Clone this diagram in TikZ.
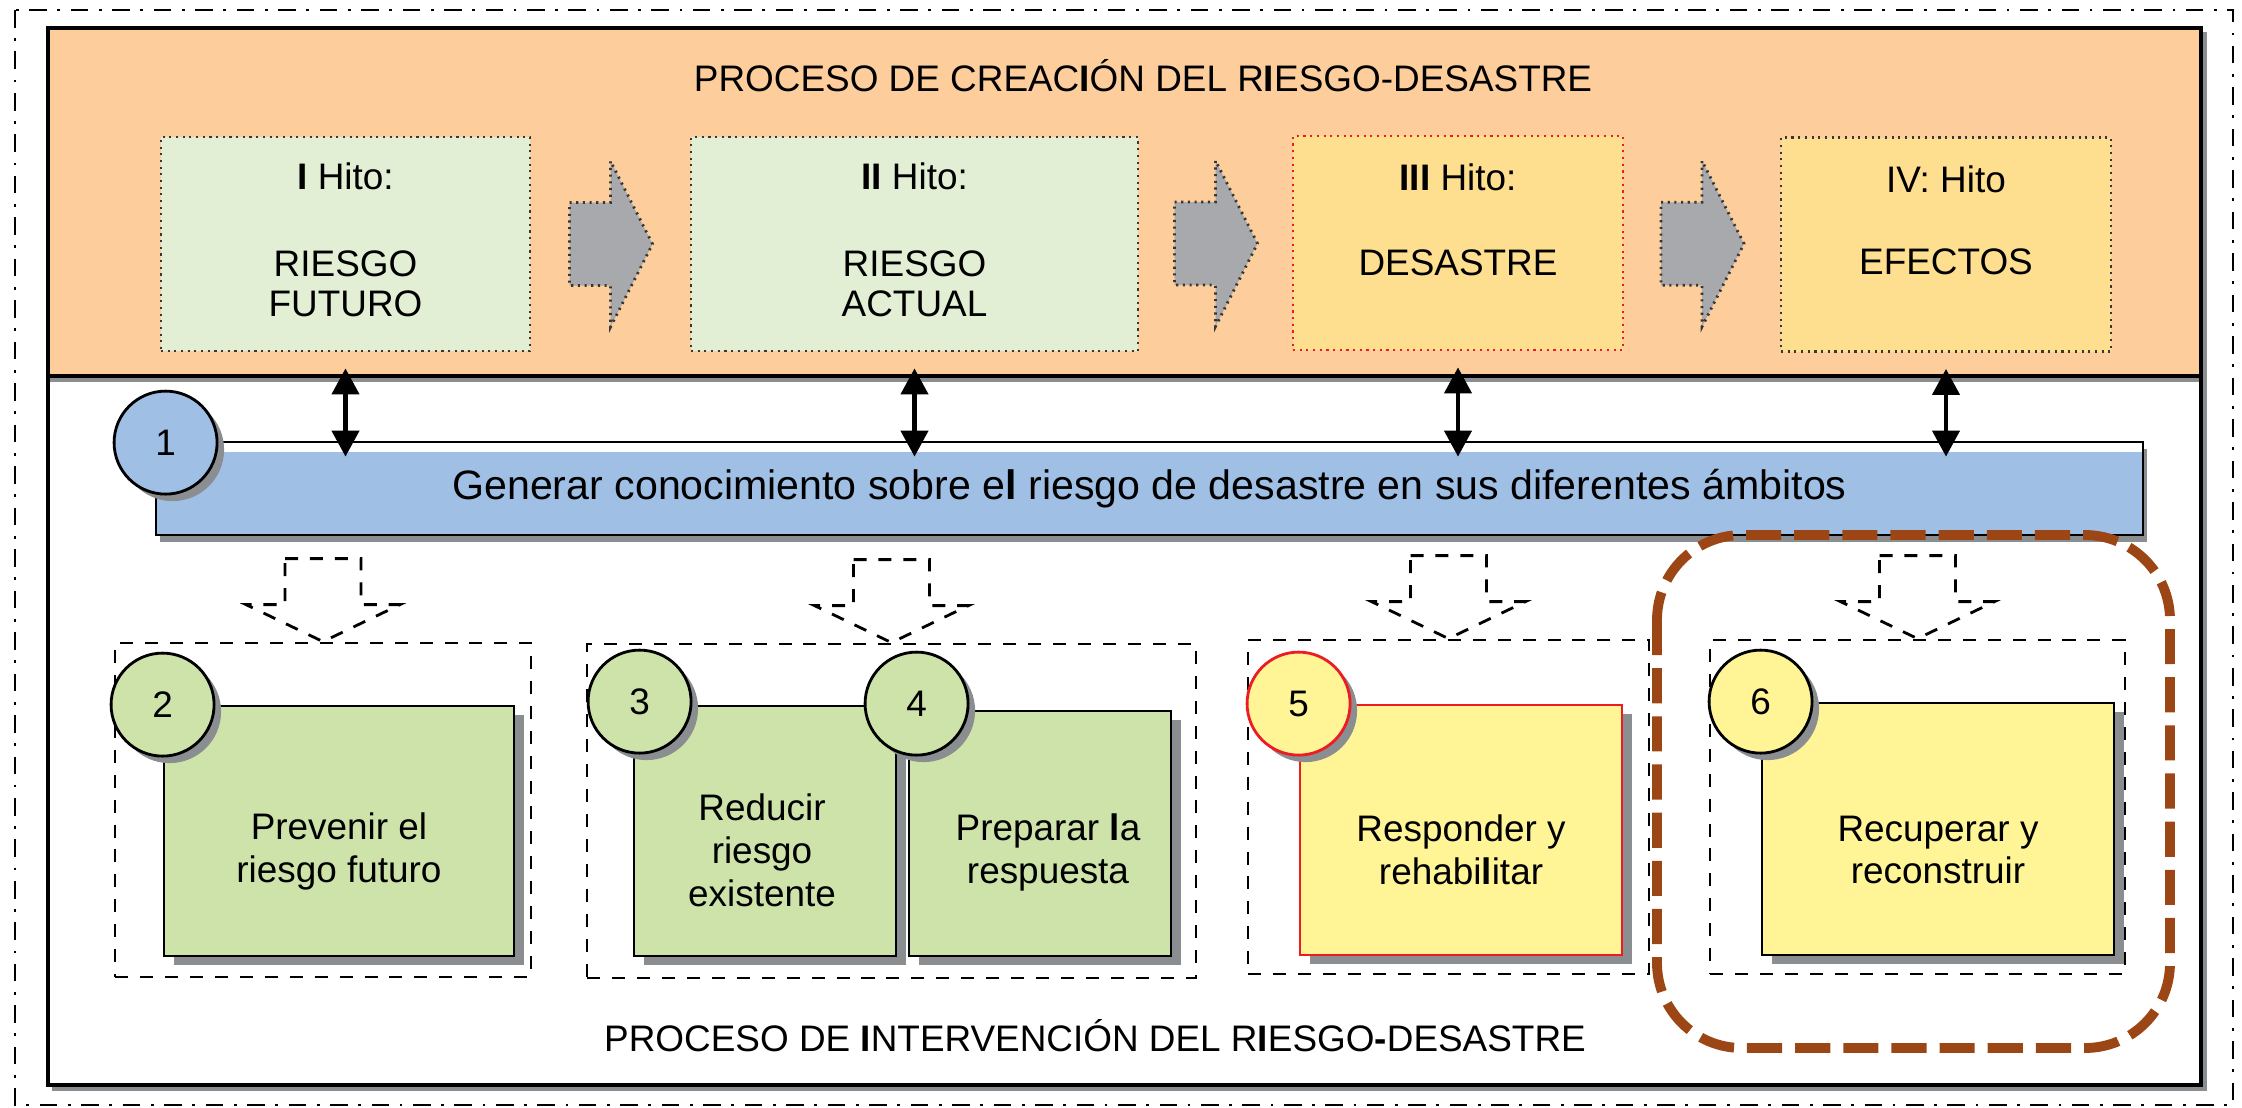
\documentclass[tikz,border=0pt]{standalone}
\usepackage{fontspec}
\setmainfont{Liberation Sans}
\usetikzlibrary{arrows.meta,calc,shadows}

\definecolor{naranja}{RGB}{253,206,155}
\definecolor{verdeclaro}{RGB}{227,239,212}
\definecolor{amarilloclaro}{RGB}{253,223,143}
\definecolor{grisflecha}{RGB}{167,169,172}
\definecolor{grisosc}{RGB}{55,55,55}
\definecolor{azulbarra}{RGB}{160,191,228}
\definecolor{verdecaja}{RGB}{206,227,170}
\definecolor{amarillocaja}{RGB}{255,245,151}
\definecolor{rojo}{RGB}{237,28,36}
\definecolor{marron}{RGB}{156,70,22}
\definecolor{sombra}{RGB}{138,142,145}

\begin{document}
\begin{tikzpicture}[x=1cm,y=-1cm,
    hito/.style={draw=grisosc, dash pattern=on 0.6pt off 1.3pt, line width=0.8pt, minimum height=2.14cm, inner sep=0pt},
    hitotxt/.style={align=center, font=\fontsize{10.5}{11.5}\selectfont},
    grayarrow/.style={fill=grisflecha, draw=grisosc, dash pattern=on 0.6pt off 1.3pt, line width=0.8pt},
    dblarrow/.style={{Triangle[width=7.7pt,length=7.4pt]}-{Triangle[width=7.7pt,length=7.4pt]}, line width=1.2pt},
    bar/.style={draw, line width=0.8pt, fill=azulbarra, minimum width=19.87cm, minimum height=0.93cm, inner sep=0pt,
        font=\fontsize{11.7}{14}\selectfont,
        drop shadow={shadow xshift=0.4mm, shadow yshift=-0.7mm, fill=sombra, opacity=1},
        path picture={\fill[white] (path picture bounding box.north west) rectangle ([yshift=-1mm]path picture bounding box.north east);}},
    num/.style={circle, draw, line width=0.8pt, minimum size=1.03cm, inner sep=0pt, font=\fontsize{10.5}{12}\selectfont,
        drop shadow={shadow xshift=0.7mm, shadow yshift=-0.7mm, fill=sombra, opacity=1}},
    grp/.style={draw, dash pattern=on 3.7pt off 3.4pt, line width=0.8pt, minimum height=3.34cm, inner sep=0pt},
    downarrow/.style={draw, fill=white, dash pattern=on 3.7pt off 3.4pt, line width=0.8pt},
    act/.style={draw, line width=0.8pt, inner sep=0pt,
        drop shadow={shadow xshift=1mm, shadow yshift=-0.9mm, fill=sombra, opacity=1}},
    acttxt/.style={align=center, font=\fontsize{10.5}{12.2}\selectfont},
    tittxt/.style={font=\fontsize{10.5}{12}\selectfont}]
    \useasboundingbox (0,0) rectangle (22.42,11.07);

    % frames
    \draw[dash pattern=on 5pt off 3pt on 0.8pt off 3pt, line width=0.8pt] (0.15,0.10) rectangle (22.33,11.05);
    \fill[naranja] (0.48,0.28) rectangle (22.01,3.76);
    \draw[sombra, line width=1pt] (0.48,3.80) -- (22.01,3.80);
    \draw[line width=1pt] (0.48,3.76) -- (22.01,3.76);
    \draw[sombra, line width=1pt] (0.52,10.89) -- (22.05,10.89) -- (22.05,0.32);
    \draw[line width=1pt] (0.48,0.28) rectangle (22.01,10.85);

    % titles
    \node[tittxt] (tit1) at (11.43,0.76) {PROCESO DE CREAC\textbf{I}ÓN DEL R\textbf{I}ESGO-DESASTRE};
    \node[tittxt] (tit2) at (10.95,10.36) {PROCESO DE \textbf{I}NTERVENCIÓN DEL R\textbf{I}ESGO\textbf{-}DESASTRE};

    % hitos
    \node[hito, fill=verdeclaro, minimum width=3.69cm] (h1) at (3.455,2.44) {};
    \node[hito, fill=verdeclaro, minimum width=4.47cm] (h2) at (9.145,2.44) {};
    \node[hito, fill=amarilloclaro, draw=rojo, minimum width=3.30cm] (h3) at (14.58,2.43) {};
    \node[hito, fill=amarilloclaro, minimum width=3.30cm] (h4) at (19.46,2.445) {};

    \node[hitotxt] (l1) at ($(h1.north)+(0,0.41)$) {\textbf{I} Hito:};
    \node[hitotxt] (l2) at ($(h2.north)+(0,0.41)$) {\textbf{II} Hito:};
    \node[hitotxt] (l3) at ($(h3.north)+(0,0.43)$) {\textbf{III} Hito:};
    \node[hitotxt] (l4) at ($(h4.north)+(0,0.43)$) {IV: Hito};
    \node[hitotxt] (r1) at ($(h1.north)+(0,1.48)$) {RIESGO\\FUTURO};
    \node[hitotxt] (r2) at ($(h2.north)+(0,1.48)$) {RIESGO\\ACTUAL};
    \node[hitotxt] (r3) at ($(h3.north)+(0,1.28)$) {DESASTRE};
    \node[hitotxt] (r4) at ($(h4.north)+(0,1.26)$) {EFECTOS};

    % gray arrows between hitos
    \foreach \a/\b in {h1/h2,h2/h3,h3/h4} {
        \coordinate (m) at ($(\a.east)!0.5!(\b.west)$);
        \draw[grayarrow] ($(m)+(-0.41,-0.415)$) -- ++(0.41,0) -- ++(0,-0.415) -- ($(m)+(0.42,0)$)
            -- ($(m)+(0,0.83)$) -- ++(0,-0.415) -- ++(-0.41,0) -- cycle;
    }

    % knowledge bar
    \node[bar] (bar) at (11.495,4.885) {Generar conocimiento sobre e\textbf{l} riesgo de desastre en sus diferentes ámbitos};
    \node[num, fill=azulbarra] (c1) at ($(bar.north west)+(0.11,0.02)$) {1};

    \foreach \i in {1,...,4}
        \draw[dblarrow] ($(h\i.south)+(0,0.16)$) -- ($(h\i.south |- bar.north)+(0,0.16)$);

    % groups
    \node[grp, minimum width=4.16cm] (g2) at (3.23,8.10) {};
    \node[grp, minimum width=6.09cm] (g34) at (8.915,8.11) {};
    \node[grp, minimum width=4.01cm] (g5) at (14.485,8.07) {};
    \node[grp, minimum width=4.15cm] (g6) at (19.175,8.07) {};

    \foreach \g in {g2,g34,g5,g6}
        \draw[downarrow] ($(\g.north)+(-0.38,-0.83)$) -- ++(0.76,0) -- ++(0,0.46) -- ++(0.39,0)
            -- (\g.north) -- ++(-0.77,-0.37) -- ++(0.39,0) -- cycle;

    % actions
    \node[act, fill=verdecaja, minimum width=3.50cm, minimum height=2.50cm] (b2) at (3.39,8.31) {};
    \node[act, fill=verdecaja, minimum width=2.62cm, minimum height=2.50cm] (b3) at (7.65,8.31) {};
    \node[act, fill=verdecaja, minimum width=2.62cm, minimum height=2.45cm] (b4) at (10.40,8.335) {};
    \node[act, fill=amarillocaja, draw=rojo, minimum width=3.22cm, minimum height=2.50cm] (b5) at (14.61,8.30) {};
    \node[act, fill=amarillocaja, minimum width=3.52cm, minimum height=2.52cm] (b6) at (19.38,8.29) {};

    \node[acttxt] (t2) at ($(b2.center)+(0,0.20)$) {Prevenir el\\riesgo futuro};
    \node[acttxt] (t3) at ($(b3.center)+(-0.03,0.19)$) {Reducir\\riesgo\\existente};
    \node[acttxt] (t4) at ($(b4.center)+(0.08,0.19)$) {Preparar \textbf{l}a\\respuesta};
    \node[acttxt] (t5) at ($(b5.center)+(0,0.20)$) {Responder y\\rehabi\textbf{l}itar};
    \node[acttxt] (t6) at ($(b6.center)+(0,0.21)$) {Recuperar y\\reconstruir};

    \node[num, fill=verdecaja] (c2) at (b2.north west) {2};
    \node[num, fill=verdecaja] (c3) at ($(b3.north west)+(0.07,-0.03)$) {3};
    \node[num, fill=verdecaja] (c4) at ($(b4.north west)+(0.09,-0.06)$) {4};
    \node[num, fill=amarillocaja, draw=rojo] (c5) at (b5.north west) {5};
    \node[num, fill=amarillocaja] (c6) at (b6.north west) {6};

    % highlight
    \draw[marron, line width=2.8pt, dash pattern=on 10pt off 3.7pt, rounded corners=0.85cm] (16.57,5.35) rectangle (21.70,10.48);
\end{tikzpicture}
\end{document}
